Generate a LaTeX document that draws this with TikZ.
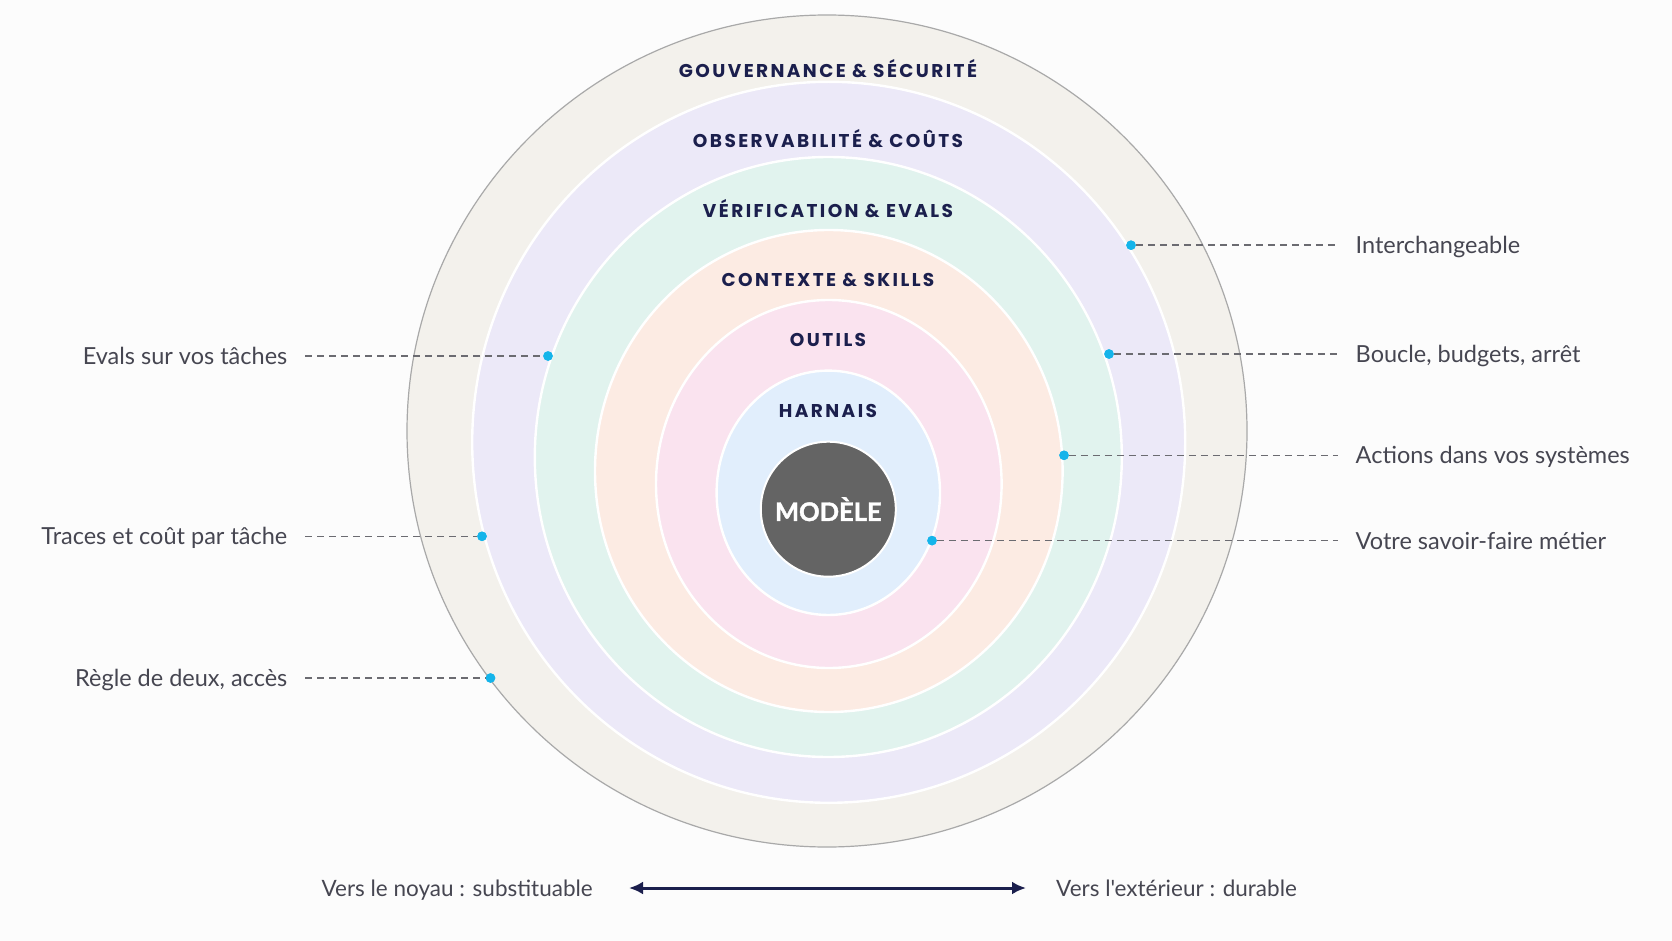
\documentclass[tikz,border=0pt]{standalone}
\usepackage{fontspec}
\setmainfont{Lato}
\newfontfamily\labfont{Lato}
\newfontfamily\corefont{Lato}[BoldFeatures={FakeBold=1.6}]
\newfontfamily\titlefont{Poppins}[LetterSpace=13]
\usetikzlibrary{arrows.meta}

\definecolor{bgcol}{HTML}{FCFCFC}
\definecolor{ringA}{HTML}{F3F1EC}
\definecolor{ringB}{HTML}{ECE9F8}
\definecolor{ringC}{HTML}{E1F3EE}
\definecolor{ringD}{HTML}{FCEBE3}
\definecolor{ringE}{HTML}{FAE3EF}
\definecolor{ringF}{HTML}{E1EEFC}
\definecolor{corecol}{HTML}{646464}
\definecolor{rimcol}{HTML}{A9A9A9}
\definecolor{navy}{HTML}{1B1F4D}
\definecolor{labcol}{HTML}{464651}
\definecolor{dotcol}{HTML}{14B4EA}
\definecolor{dashcol}{HTML}{6B6B71}

\tikzset{
  ringsep/.style={draw=white, line width=2.4pt},
  ringtitle/.style={font=\titlefont\bfseries\fontsize{18.5}{20}\selectfont, text=navy, inner sep=0pt, anchor=base},
  core/.style={circle, minimum size=135pt, inner sep=0pt, fill=corecol, draw=white, line width=2pt,
    text=white, font=\corefont\bfseries\fontsize{25.5}{28}\selectfont},
  lab/.style={font=\labfont\fontsize{23.5}{27}\selectfont, text=labcol, inner xsep=17.5pt, inner ysep=0pt},
  botlab/.style={font=\labfont\fontsize{22.5}{26}\selectfont, text=labcol, inner sep=0pt},
  pin/.style={circle, minimum size=9.5pt, inner sep=0pt, fill=dotcol},
  dashline/.style={draw=dashcol, line width=1.5pt, dash pattern=on 7pt off 5pt},
  arrowline/.style={draw=navy, line width=3pt, {Latex[length=14pt,width=13pt]}-{Latex[length=14pt,width=13pt]}}
}

\begin{document}
\begin{tikzpicture}[x=1pt,y=-1pt]
\fill[bgcol] (0,0) rectangle (1672,941);
\useasboundingbox (0,0) rectangle (1672,941);

% rings
\filldraw[fill=ringA, draw=rimcol, line width=1.2pt] (827,431) ellipse [x radius=420pt, y radius=416pt];
\filldraw[fill=ringB, ringsep] (828.7,442.3) ellipse [x radius=356.5pt, y radius=360.5pt];
\filldraw[fill=ringC, ringsep] (828.3,457) ellipse [x radius=293.5pt, y radius=300pt];
\filldraw[fill=ringD, ringsep] (828.8,471) ellipse [x radius=233.8pt, y radius=241pt];
\filldraw[fill=ringE, ringsep] (828.8,484) ellipse [x radius=172.8pt, y radius=184pt];
\filldraw[fill=ringF, ringsep] (828.3,492.8) ellipse [x radius=111.7pt, y radius=122.2pt];
\node[core] (core) at (828.3,509.2) {MODÈLE};

% ring titles
\node[ringtitle] (tGov) at (828,78) {GOUVERNANCE \& SÉCURITÉ};
\node[ringtitle] (tObs) at (828,147.4) {OBSERVABILITÉ \& COÛTS};
\node[ringtitle] (tVer) at (828,217.7) {VÉRIFICATION \& EVALS};
\node[ringtitle] (tCtx) at (828,286.5) {CONTEXTE \& SKILLS};
\node[ringtitle] (tOut) at (828,346) {OUTILS};
\node[ringtitle] (tHar) at (828,417.3) {HARNAIS};

% pins
\node[pin] (dInter) at (1131,245.2) {};
\node[pin] (dBoucle) at (1109,354) {};
\node[pin] (dActions) at (1064,455.3) {};
\node[pin] (dVotre) at (932,540.6) {};
\node[pin] (dEvals) at (548,356) {};
\node[pin] (dTraces) at (482,536.3) {};
\node[pin] (dRegle) at (490.5,678) {};

% right labels
\node[lab, anchor=base west] (rInter) at (1338,253.6) {Interchangeable};
\node[lab, anchor=base west] (rBoucle) at (1338,362.4) {Boucle, budgets, arrêt};
\node[lab, anchor=base west] (rActions) at (1338,463.7) {Actions dans vos systèmes};
\node[lab, anchor=base west] (rVotre) at (1338,549) {Votre savoir-faire métier};

% left labels
\node[lab, anchor=base east] (lEvals) at (305,364.4) {Evals sur vos tâches};
\node[lab, anchor=base east] (lTraces) at (305,544.7) {Traces et coût par tâche};
\node[lab, anchor=base east] (lRegle) at (305,686.4) {Règle de deux, accès};

% leader lines
\draw[dashline] (dInter) -- (rInter.west |- dInter);
\draw[dashline] (dBoucle) -- (rBoucle.west |- dBoucle);
\draw[dashline] (dActions) -- (rActions.west |- dActions);
\draw[dashline] (dVotre) -- (rVotre.west |- dVotre);
\draw[dashline] (lEvals.east |- dEvals) -- (dEvals);
\draw[dashline] (lTraces.east |- dTraces) -- (dTraces);
\draw[dashline] (lRegle.east |- dRegle) -- (dRegle);

% redraw pins on top
\foreach \p in {dInter,dBoucle,dActions,dVotre,dEvals,dTraces,dRegle}
  \fill[dotcol] (\p) circle (4.75pt);

% bottom axis
\node[botlab, anchor=base east] (bLeft) at (593,896) {Vers le noyau : substituable};
\node[botlab, anchor=base west] (bRight) at (1056,896) {Vers l'extérieur : durable};
\coordinate (aL) at (629,888);
\coordinate (aR) at (1026,888);
\draw[arrowline] (aL) -- (aR);
\end{tikzpicture}
\end{document}
